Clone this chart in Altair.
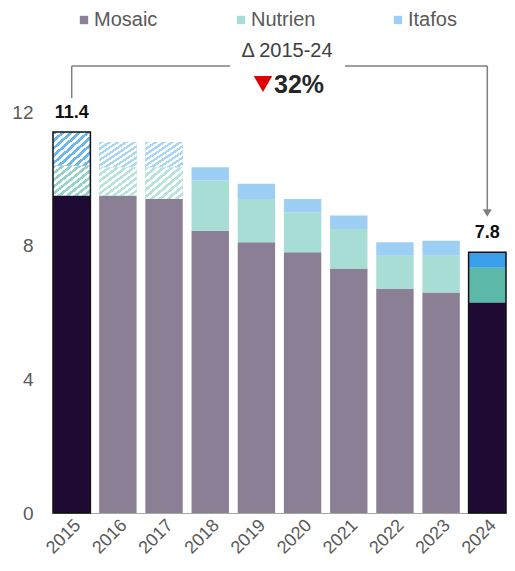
import altair as alt
import pandas as pd

# ---- data ----
years = ["2015", "2016", "2017", "2018", "2019", "2020", "2021", "2022", "2023", "2024"]
companies = ["Mosaic", "Nutrien", "Itafos"]
mosaic = [9.5, 9.5, 9.4, 8.45, 8.1, 7.8, 7.3, 6.7, 6.6, 6.3]
nutrien = [0.9, 0.85, 0.95, 1.5, 1.3, 1.2, 1.2, 1.0, 1.1, 1.05]
itafos = [1.0, 0.75, 0.75, 0.4, 0.45, 0.4, 0.4, 0.4, 0.45, 0.45]
highlight_years = ["2015", "2024"]
hatched_years = ["2015", "2016", "2017"]

normal_colors = ["#8b7f96", "#a8ddd6", "#9dcff5"]
highlight_colors = ["#1f0a33", "#5cb8a9", "#3a9fea"]

rows = []
for ci, (comp, vals) in enumerate(zip(companies, [mosaic, nutrien, itafos])):
    for y, v in zip(years, vals):
        rows.append({"year": y, "company": comp, "value": v, "order": ci,
                     "hcolor": highlight_colors[ci],
                     "hl": y in highlight_years,
                     "hatch": (y in hatched_years) and comp != "Mosaic"})
df = pd.DataFrame(rows)

FONT = "Liberation Sans"
GREY_LINE = "#7f7f7f"


def stripes(color, n=9, frac=0.5):
    stops = []
    for i in range(n):
        a, b, c = i / n, (i + frac) / n, (i + 1) / n
        stops += [{"offset": a, "color": color}, {"offset": b, "color": color},
                  {"offset": b, "color": "#ffffff"}, {"offset": c, "color": "#ffffff"}]
    return {"gradient": "linear", "x1": 0, "y1": 0, "x2": 1, "y2": 1, "stops": stops}


x_enc = alt.X("year:O", sort=years,
              scale=alt.Scale(paddingInner=0.19, paddingOuter=0),
              axis=alt.Axis(title=None, labelAngle=-45, labelFontSize=18, labelColor="#595959",
                            labelFont=FONT, ticks=False, domainColor="#a6a6a6", labelPadding=3))
y_scale = alt.Scale(domain=[0, 12], nice=False)
y_axis = alt.Axis(title=None, values=[0, 4, 8, 12], grid=False, domain=False, ticks=False,
                  labelFontSize=19, labelColor="#595959", labelFont=FONT, labelPadding=20)

base = alt.Chart(df).transform_stack(
    stack="value", groupby=["year"], as_=["y0", "y1"], sort=[alt.SortField("order")]
)

bars = base.mark_bar().encode(
    x=x_enc,
    y=alt.Y("y0:Q", scale=y_scale, axis=y_axis),
    y2="y1:Q",
    color=alt.Color("company:N",
                    scale=alt.Scale(domain=companies, range=normal_colors),
                    legend=alt.Legend(title=None, orient="none", legendX=21, legendY=-102,
                                      direction="horizontal", columns=3, gridAlign="all",
                                      columnPadding=72, symbolType="square", symbolSize=70,
                                      symbolStrokeWidth=0, labelFontSize=20, labelFont=FONT,
                                      labelColor="#595959", labelOffset=0)),
)

hl_bars = base.transform_filter(alt.datum.hl).mark_bar().encode(
    x="year:O", y="y0:Q", y2="y1:Q", fill=alt.Fill("hcolor:N", scale=None)
)

hatch_layers = []
for comp, ncol, hcol in [("Nutrien", "#b7e3dc", "#93d3c8"), ("Itafos", "#a9d6f3", "#6cb8ea")]:
    for is_hl, col in [(False, ncol), (True, hcol)]:
        hatch_layers.append(
            base.transform_filter(
                (alt.datum.company == comp) & alt.datum.hatch & (alt.datum.hl == is_hl)
            ).mark_bar(fill=stripes(col)).encode(x="year:O", y="y0:Q", y2="y1:Q")
        )

totals = alt.Chart(df).transform_filter(alt.datum.hl).transform_aggregate(
    total="sum(value)", groupby=["year"]
)
outline = totals.mark_bar(fillOpacity=0, stroke="#111111", strokeWidth=1.5).encode(
    x="year:O", y="total:Q"
)
total_labels = totals.mark_text(dy=-19, fontSize=18, fontWeight="bold", font=FONT,
                                color="#111111", baseline="middle").encode(
    x="year:O", y="total:Q", text=alt.Text("total:Q", format=".1f")
)

# ---- annotation bracket ----
ann_left = pd.DataFrame({"year": ["2015"]})
ann_right = pd.DataFrame({"year": ["2024"]})
line_kw = dict(color=GREY_LINE, strokeWidth=1.5)
left_v = alt.Chart(ann_left).mark_rule(**line_kw).encode(
    x="year:O", y=alt.value(-46), y2=alt.value(-14))
left_h = alt.Chart(ann_left).mark_rule(**line_kw).encode(
    x="year:O", x2=alt.value(177), y=alt.value(-46))
right_h = alt.Chart(ann_right).mark_rule(**line_kw).encode(
    x="year:O", x2=alt.value(292), y=alt.value(-46))
right_v = alt.Chart(ann_right).mark_rule(**line_kw).encode(
    x="year:O", y=alt.value(-46), y2=alt.value(100))
arrow = alt.Chart(ann_right).mark_point(shape="triangle-down", filled=True, size=80,
                                        color=GREY_LINE, opacity=1).encode(
    x="year:O", y=alt.value(101))

title_df = pd.DataFrame({"t": ["Δ 2015-24"], "p": ["32%"]})
delta_txt = alt.Chart(title_df).mark_text(fontSize=20, font=FONT, color="#404040",
                                          align="center", baseline="middle").encode(
    x=alt.value(234), y=alt.value(-61), text="t:N")
tri = alt.Chart(title_df).mark_point(shape="triangle-down", filled=True, size=340,
                                     color="#e00000", opacity=1).encode(
    x=alt.value(210), y=alt.value(-28))
pct_txt = alt.Chart(title_df).mark_text(fontSize=25, font=FONT, fontWeight="bold", color="#262626",
                                        align="left", baseline="middle").encode(
    x=alt.value(221), y=alt.value(-27), text="p:N")

chart = alt.layer(
    bars, hl_bars, *hatch_layers, outline, total_labels,
    left_v, left_h, right_h, right_v, arrow, delta_txt, tri, pct_txt
).properties(
    width=453, height=401,
    autosize=alt.AutoSizeParams(type="none"),
    padding={"left": 53 - 8, "top": 112 - 8, "right": 1, "bottom": 44},
).configure_view(stroke=None)

chart.save("out.html", embed_options={"renderer": "svg", "actions": False})
